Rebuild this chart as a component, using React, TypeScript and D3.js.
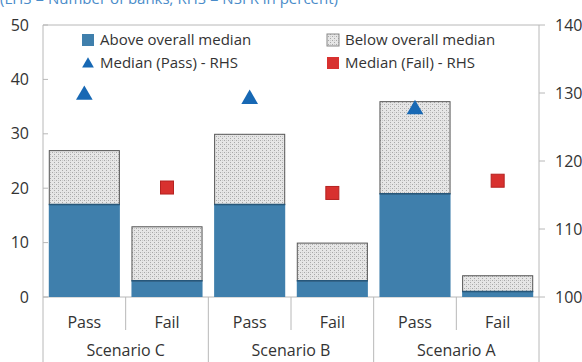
import React from "react";
import * as d3 from "d3";

const scenarios = ["Scenario C", "Scenario B", "Scenario A"];
const outcomes = ["Pass", "Fail"];
const aboveMedian = [17, 3, 17, 3, 19, 1];
const belowMedian = [10, 10, 13, 7, 17, 3];
const medianPass = [129.7, 129.1, 127.6];
const medianFail = [116.1, 115.3, 117.1];
const lhsTicks = [0, 10, 20, 30, 40, 50];
const rhsTicks = [100, 110, 120, 130, 140];

const W = 582;
const H = 362;
const left = 43;
const right = 539;
const top = 25;
const bottom = 297;
const font = "'Open Sans', 'Noto Sans', sans-serif";
const gridCol = "#b8b8b8";
const textCol = "#333";

export default function App() {
  const cats = scenarios.flatMap((s) => outcomes.map((o) => `${s}|${o}`));
  const x = d3.scaleBand<string>().domain(cats).range([left, right]).paddingInner(0.14).paddingOuter(0.07);
  const yL = d3.scaleLinear().domain([0, 50]).range([bottom, top]);
  const yR = d3.scaleLinear().domain([100, 140]).range([bottom, top]);
  const step = x.step();
  const catCenter = (i: number) => left + step * (i + 0.5);
  const bandLeft = (i: number) => catCenter(i) - x.bandwidth() / 2;

  const stack = d3.stack<number>().keys(["a", "b"]).value((i, k) => (k === "a" ? aboveMedian[i] : belowMedian[i]));
  const series = stack(d3.range(cats.length));

  const tri = d3.symbol().type(d3.symbolTriangle).size(120)();

  return (
    <svg width={W} height={H} style={{ position: "absolute", left: 0, top: 0, background: "#fff" }}>
      <defs>
        <pattern id="dots" width="4" height="4" patternUnits="userSpaceOnUse">
          <rect width="4" height="4" fill="#e6e6e6" />
          <rect x="0" y="0" width="1" height="1" fill="#a8a8a8" />
          <rect x="2" y="2" width="1" height="1" fill="#a8a8a8" />
          <rect x="2" y="0" width="1" height="1" fill="#cacaca" />
        </pattern>
      </defs>
      <text x={0} y={4} fontFamily={font} fontSize={15} fill="#4a8cc9">
        (LHS = Number of banks; RHS = NSFR in percent)
      </text>

      {/* frame */}
      <line x1={left} x2={left} y1={top} y2={H} stroke={gridCol} />
      <line x1={right} x2={right} y1={top} y2={H} stroke={gridCol} />
      <line x1={left} x2={right} y1={top} y2={top} stroke={gridCol} />
      <line x1={left} x2={right} y1={bottom} y2={bottom} stroke={gridCol} />

      {/* category separators */}
      {d3.range(1, cats.length).map((i) => (
        <line
          key={i}
          x1={left + step * i}
          x2={left + step * i}
          y1={bottom}
          y2={i % 2 === 0 ? H : 330}
          stroke={gridCol}
        />
      ))}

      {/* left ticks */}
      {lhsTicks.map((t) => (
        <g key={t}>
          <line x1={left} x2={left + 5} y1={yL(t)} y2={yL(t)} stroke={gridCol} />
          <text x={29} y={yL(t)} dy="0.35em" textAnchor="end" fontFamily={font} fontSize={16} fill={textCol}>
            {t}
          </text>
        </g>
      ))}
      {/* right ticks */}
      {rhsTicks.map((t) => (
        <g key={t}>
          <line x1={right} x2={right + 6} y1={yR(t)} y2={yR(t)} stroke={gridCol} />
          <text x={555} y={yR(t)} dy="0.35em" textAnchor="start" fontFamily={font} fontSize={16} fill={textCol}>
            {t}
          </text>
        </g>
      ))}

      {/* bars */}
      {series[0].map((d, i) => (
        <rect
          key={`a${i}`}
          x={bandLeft(i)}
          y={yL(d[1])}
          width={x.bandwidth()}
          height={yL(d[0]) - yL(d[1])}
          fill="#3f7fac"
        />
      ))}
      {series[1].map((d, i) => (
        <rect
          key={`b${i}`}
          x={bandLeft(i) + 0.5}
          y={yL(d[1]) + 0.5}
          width={x.bandwidth() - 1}
          height={yL(d[0]) - yL(d[1]) - 0.5}
          fill="url(#dots)"
          stroke="#555"
          strokeWidth={1}
        />
      ))}
      {series[0].map((d, i) => (
        <line key={`al2${i}`} x1={bandLeft(i)} x2={bandLeft(i) + x.bandwidth()} y1={yL(d[1])} y2={yL(d[1])} stroke="#27577a" strokeWidth={1.5} />
      ))}

      {/* medians */}
      {medianPass.map((v, s) => (
        <path key={`p${s}`} d={tri!} transform={`translate(${catCenter(s * 2)},${yR(v)})`} fill="#1768b4" />
      ))}
      {medianFail.map((v, s) => (
        <rect
          key={`f${s}`}
          x={catCenter(s * 2 + 1) - 6.5}
          y={yR(v) - 6.5}
          width={13}
          height={13}
          fill="#d8312f"
          stroke="#b52220"
          strokeWidth={1}
        />
      ))}

      {/* category labels */}
      {cats.map((c, i) => (
        <text key={c} x={catCenter(i)} y={322} dy="0.35em" textAnchor="middle" fontFamily={font} fontSize={16} fill={textCol}>
          {c.split("|")[1]}
        </text>
      ))}
      {scenarios.map((s, j) => (
        <text key={s} x={left + step * (2 * j + 1)} y={350} dy="0.35em" textAnchor="middle" fontFamily={font} fontSize={16} fill={textCol}>
          {s}
        </text>
      ))}

      {/* legend */}
      <g fontFamily={font} fontSize={15} fill={textCol}>
        <rect x={82} y={34} width={12} height={12} fill="#3f7fac" />
        <text x={100} y={40} dy="0.35em">Above overall median</text>
        <rect x={327} y={34} width={12} height={12} fill="url(#dots)" stroke="#888" />
        <text x={345} y={40} dy="0.35em">Below overall median</text>
        <path d={d3.symbol().type(d3.symbolTriangle).size(60)()!} transform="translate(88,64)" fill="#1768b4" />
        <text x={100} y={63} dy="0.35em">Median (Pass) - RHS</text>
        <rect x={327} y={57} width={12} height={12} fill="#d8312f" />
        <text x={345} y={63} dy="0.35em">Median (Fail) - RHS</text>
      </g>
    </svg>
  );
}
